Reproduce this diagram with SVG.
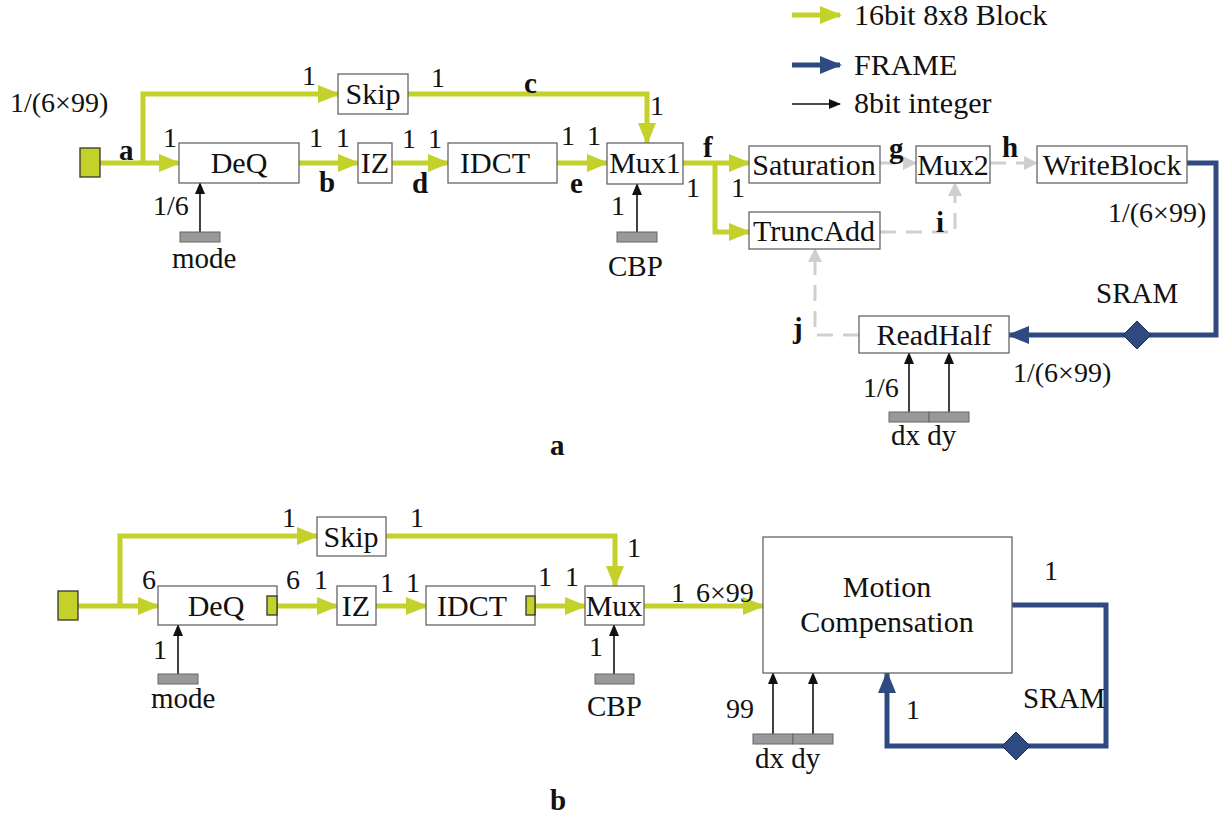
<svg xmlns="http://www.w3.org/2000/svg" width="1220" height="817" viewBox="0 0 1220 817" font-family="'Times New Roman', 'Liberation Serif', Times, 'DejaVu Serif', serif">
<style>
.box{fill:#fff;stroke:#666;stroke-width:1.3}
.src{fill:#c3d12a;stroke:#333;stroke-width:1.3}
.bar{fill:#999;stroke:#666;stroke-width:1}
.g{fill:none;stroke:#c3d12a;stroke-width:5}
.bl{fill:none;stroke:#2f4a80;stroke-width:5}
.k{fill:none;stroke:#111;stroke-width:1.6}
.gr{fill:none;stroke:#cfcfcf;stroke-width:3;stroke-dasharray:16,10}
text{font-family:'Times New Roman','Liberation Serif',Times,'DejaVu Serif',serif;fill:#111}
.t{font-size:30px;text-anchor:middle}
.n{font-size:28px}
.w{font-size:29px}
.b{font-size:29px;font-weight:bold}
.lg{font-size:30px}
</style>
<defs>
<marker id="ag" markerUnits="userSpaceOnUse" markerWidth="22" markerHeight="18" refX="20" refY="9" orient="auto"><path d="M0,0 L22,9 L0,18 z" fill="#c3d12a"/></marker>
<marker id="ab" markerUnits="userSpaceOnUse" markerWidth="22" markerHeight="18" refX="20" refY="9" orient="auto"><path d="M0,0 L22,9 L0,18 z" fill="#2f4a80"/></marker>
<marker id="ak" markerUnits="userSpaceOnUse" markerWidth="12" markerHeight="10" refX="11" refY="5" orient="auto"><path d="M0,0 L12,5 L0,10 z" fill="#111"/></marker>
<marker id="ay" markerUnits="userSpaceOnUse" markerWidth="14" markerHeight="14" refX="13" refY="7" orient="auto"><path d="M0,0 L14,7 L0,14 z" fill="#cfcfcf"/></marker>
</defs>

<g id="legend">
<line class="g" x1="792" y1="15" x2="840" y2="15" marker-end="url(#ag)"/>
<text class="lg" x="854" y="25">16bit 8x8 Block</text>
<line class="bl" x1="792" y1="65" x2="840" y2="65" marker-end="url(#ab)"/>
<text class="lg" x="854" y="75">FRAME</text>
<line class="k" x1="792" y1="104" x2="840" y2="104" marker-end="url(#ak)"/>
<text class="lg" x="854" y="113">8bit integer</text>
</g>

<g id="connectors">
<line class="g" x1="100" y1="163" x2="179" y2="163" marker-end="url(#ag)"/>
<path class="g" d="M143,163 V94 H338" marker-end="url(#ag)"/>
<line class="g" x1="299" y1="163" x2="358" y2="163" marker-end="url(#ag)"/>
<line class="g" x1="392" y1="163" x2="448" y2="163" marker-end="url(#ag)"/>
<line class="g" x1="557" y1="163" x2="607" y2="163" marker-end="url(#ag)"/>
<path class="g" d="M408,94 H647 V143" marker-end="url(#ag)"/>
<line class="g" x1="683" y1="163" x2="749" y2="163" marker-end="url(#ag)"/>
<path class="g" d="M715,163 V232 H749" marker-end="url(#ag)"/>
<line class="k" x1="200" y1="232" x2="200" y2="183" marker-end="url(#ak)"/>
<line class="k" x1="637" y1="232" x2="637" y2="184" marker-end="url(#ak)"/>
<line class="gr" x1="880" y1="163" x2="916" y2="163" marker-end="url(#ay)"/>
<line class="gr" x1="990" y1="163" x2="1037" y2="163" marker-end="url(#ay)"/>
<path class="gr" d="M880,232 H955 V183" marker-end="url(#ay)"/>
<path class="gr" d="M859,335 H815 V249" marker-end="url(#ay)"/>
<path class="bl" d="M1187,163 H1216 V335 H1009" marker-end="url(#ab)"/>
<line class="k" x1="909" y1="412" x2="909" y2="353" marker-end="url(#ak)"/>
<line class="k" x1="949" y1="412" x2="949" y2="353" marker-end="url(#ak)"/>
<line class="g" x1="78" y1="606" x2="158" y2="606" marker-end="url(#ag)"/>
<path class="g" d="M120,606 V536 H317" marker-end="url(#ag)"/>
<line class="g" x1="277" y1="606" x2="337" y2="606" marker-end="url(#ag)"/>
<line class="g" x1="376" y1="606" x2="426" y2="606" marker-end="url(#ag)"/>
<line class="g" x1="535" y1="606" x2="585" y2="606" marker-end="url(#ag)"/>
<path class="g" d="M386,536 H615 V586" marker-end="url(#ag)"/>
<line class="g" x1="644" y1="606" x2="763" y2="606" marker-end="url(#ag)"/>
<line class="k" x1="178" y1="674" x2="178" y2="625" marker-end="url(#ak)"/>
<line class="k" x1="614" y1="674" x2="614" y2="625" marker-end="url(#ak)"/>
<path class="bl" d="M1012,605 H1106 V746 H887 V673" marker-end="url(#ab)"/>
<line class="k" x1="773" y1="734" x2="773" y2="673" marker-end="url(#ak)"/>
<line class="k" x1="813" y1="734" x2="813" y2="673" marker-end="url(#ak)"/>
</g>

<g id="a-src"><rect class="src" x="80" y="148" width="20" height="29"/></g>
<g id="a-deq"><rect class="box" x="179" y="143" width="120" height="40"/><text class="t" x="239" y="173">DeQ</text></g>
<g id="a-skip"><rect class="box" x="338" y="74" width="70" height="40"/><text class="t" x="373" y="104">Skip</text></g>
<g id="a-iz"><rect class="box" x="358" y="143" width="34" height="40"/><text class="t" x="375" y="173">IZ</text></g>
<g id="a-idct"><rect class="box" x="448" y="143" width="109" height="40"/><text class="t" x="495" y="173">IDCT</text></g>
<g id="a-mux1"><rect class="box" x="607" y="143" width="76" height="41"/><text class="t" x="645" y="173">Mux1</text></g>
<g id="a-mode"><rect class="bar" x="180" y="232" width="40" height="10"/><text class="w" x="172" y="268">mode</text></g>
<g id="a-cbp"><rect class="bar" x="617" y="232" width="40" height="10"/><text class="w" x="608" y="276">CBP</text></g>
<g id="a-sat"><rect class="box" x="749" y="146" width="131" height="37"/><text class="t" x="814" y="175">Saturation</text></g>
<g id="a-trunc"><rect class="box" x="749" y="212" width="131" height="37"/><text class="t" x="814" y="241">TruncAdd</text></g>
<g id="a-mux2"><rect class="box" x="916" y="146" width="74" height="37"/><text class="t" x="953" y="175">Mux2</text></g>
<g id="a-write"><rect class="box" x="1037" y="146" width="150" height="37"/><text class="t" x="1112" y="175">WriteBlock</text></g>
<g id="a-read"><rect class="box" x="859" y="316" width="150" height="37"/><text class="t" x="934" y="345">ReadHalf</text></g>
<g id="a-sram"><path d="M1137,321 L1151,335 L1137,349 L1123,335 z" fill="#2f4a80" stroke="#1c2e55" stroke-width="1"/><text class="w" x="1096" y="303">SRAM</text></g>
<g id="a-dxdy"><rect class="bar" x="889" y="412" width="40" height="10"/><rect class="bar" x="929" y="412" width="40" height="10"/><text class="w" x="891" y="445">dx dy</text></g>

<g id="a-labels">
<text class="n" x="10" y="112">1/(6×99)</text>
<text class="b" x="119" y="160">a</text>
<text class="n" x="302" y="85">1</text>
<text class="n" x="163" y="147">1</text>
<text class="n" x="309" y="147">1</text>
<text class="n" x="336" y="147">1</text>
<text class="b" x="319" y="192">b</text>
<text class="n" x="402" y="148">1</text>
<text class="n" x="428" y="148">1</text>
<text class="b" x="412" y="193">d</text>
<text class="n" x="153" y="215">1/6</text>
<text class="n" x="431" y="87">1</text>
<text class="b" x="524" y="93">c</text>
<text class="n" x="650" y="115">1</text>
<text class="n" x="561" y="145">1</text>
<text class="n" x="587" y="145">1</text>
<text class="b" x="570" y="193">e</text>
<text class="n" x="611" y="215">1</text>
<text class="n" x="686" y="197">1</text>
<text class="b" x="703" y="157">f</text>
<text class="n" x="731" y="197">1</text>
<text class="b" x="889" y="158">g</text>
<text class="b" x="1002" y="157">h</text>
<text class="b" x="936" y="232">i</text>
<text class="n" x="1108" y="222">1/(6×99)</text>
<text class="b" x="793" y="338">j</text>
<text class="n" x="1013" y="382">1/(6×99)</text>
<text class="n" x="863" y="397">1/6</text>
<text class="b" x="550" y="455">a</text>
</g>

<g id="b-src"><rect class="src" x="58" y="591" width="20" height="29"/></g>
<g id="b-deq"><rect class="box" x="158" y="586" width="119" height="39"/><rect class="src" x="267" y="596" width="10" height="19"/><text class="t" x="216" y="616">DeQ</text></g>
<g id="b-skip"><rect class="box" x="317" y="517" width="69" height="39"/><text class="t" x="351" y="547">Skip</text></g>
<g id="b-iz"><rect class="box" x="337" y="586" width="39" height="39"/><text class="t" x="356" y="616">IZ</text></g>
<g id="b-idct"><rect class="box" x="426" y="586" width="109" height="39"/><rect class="src" x="526" y="596" width="9" height="19"/><text class="t" x="472" y="616">IDCT</text></g>
<g id="b-mux"><rect class="box" x="585" y="586" width="59" height="39"/><text class="t" x="614" y="616">Mux</text></g>
<g id="b-mode"><rect class="bar" x="158" y="674" width="40" height="10"/><text class="w" x="151" y="708">mode</text></g>
<g id="b-cbp"><rect class="bar" x="595" y="674" width="39" height="10"/><text class="w" x="587" y="716">CBP</text></g>
<g id="b-mc"><rect class="box" x="763" y="537" width="249" height="136"/><text class="t" x="887" y="597">Motion</text><text class="t" x="887" y="632">Compensation</text></g>
<g id="b-sram"><path d="M1016,732 L1030,746 L1016,760 L1002,746 z" fill="#2f4a80" stroke="#1c2e55" stroke-width="1"/><text class="w" x="1023" y="708">SRAM</text></g>
<g id="b-dxdy"><rect class="bar" x="753" y="734" width="40" height="10"/><rect class="bar" x="793" y="734" width="40" height="10"/><text class="w" x="755" y="768">dx dy</text></g>

<g id="b-labels">
<text class="n" x="282" y="527">1</text>
<text class="n" x="410" y="527">1</text>
<text class="n" x="142" y="589">6</text>
<text class="n" x="286" y="589">6</text>
<text class="n" x="314" y="589">1</text>
<text class="n" x="380" y="592">1</text>
<text class="n" x="406" y="592">1</text>
<text class="n" x="153" y="659">1</text>
<text class="n" x="627" y="557">1</text>
<text class="n" x="538" y="586">1</text>
<text class="n" x="565" y="586">1</text>
<text class="n" x="589" y="656">1</text>
<text class="n" x="671" y="602">1</text>
<text class="n" x="696" y="602">6×99</text>
<text class="n" x="726" y="718">99</text>
<text class="n" x="1044" y="580">1</text>
<text class="n" x="906" y="719">1</text>
<text class="b" x="550" y="810">b</text>
</g>
</svg>
